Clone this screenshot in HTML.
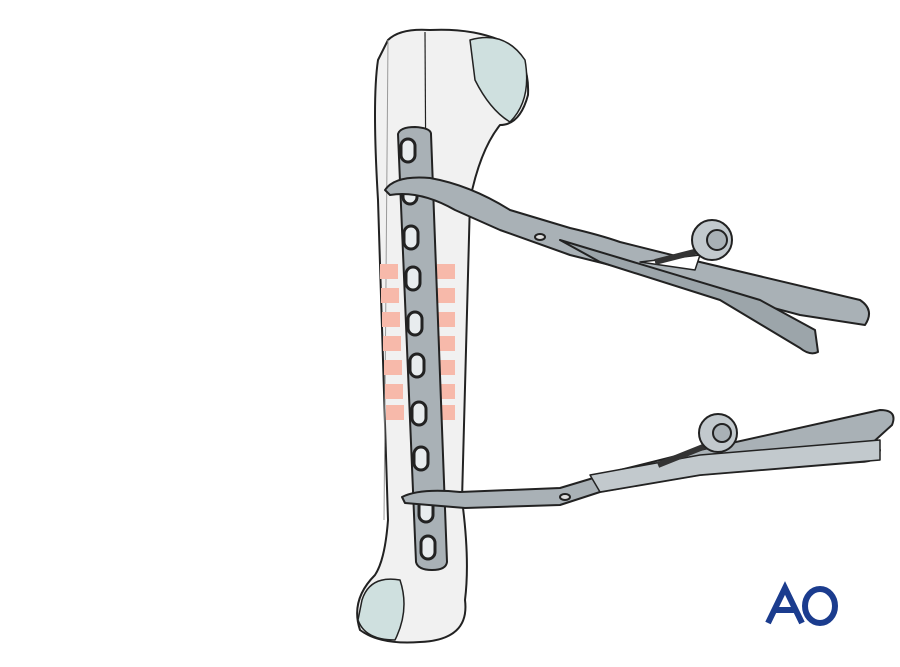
<!DOCTYPE html>
<html><head><style>body{margin:0;background:#fff}svg{display:block}</style></head><body>
<svg width="900" height="667" viewBox="0 0 900 667" xmlns="http://www.w3.org/2000/svg" stroke="#222" stroke-width="2" stroke-linejoin="round">
<!-- bone -->
<path d="M388 40 Q400 28 430 30 Q470 28 500 40 Q530 55 528 95 Q520 125 500 125 Q480 150 470 200 L462 500 Q470 560 465 600 Q470 640 420 642 Q380 645 360 630 Q350 600 375 575 Q385 560 388 520 L378 200 Q372 100 378 60 Z" fill="#f1f1f1"/>
<path d="M470 40 Q505 30 525 60 Q532 100 510 122 Q490 110 475 80 Z" fill="#cfe0df" stroke-width="1.5"/>
<path d="M362 600 Q370 575 400 580 Q410 610 395 640 Q365 640 358 620 Z" fill="#cfe0df" stroke-width="1.5"/>
<path d="M425 32 L428 560" fill="none" stroke-width="1.2"/>
<path d="M388 40 L384 520" fill="none" stroke="#999" stroke-width="1"/>
<!-- pink stripes -->
<g fill="#f7b9aa" stroke="none">
<rect x="380" y="264" width="18" height="15"/><rect x="437" y="264" width="18" height="15"/>
<rect x="381" y="288" width="18" height="15"/><rect x="437" y="288" width="18" height="15"/>
<rect x="382" y="312" width="18" height="15"/><rect x="437" y="312" width="18" height="15"/>
<rect x="383" y="336" width="18" height="15"/><rect x="437" y="336" width="18" height="15"/>
<rect x="384" y="360" width="18" height="15"/><rect x="437" y="360" width="18" height="15"/>
<rect x="385" y="384" width="18" height="15"/><rect x="437" y="384" width="18" height="15"/>
<rect x="386" y="405" width="18" height="15"/><rect x="437" y="405" width="18" height="15"/>
</g>
<!-- plate -->
<path d="M398 134 Q400 127 415 127 Q431 128 431 134 L447 562 Q446 570 432 570 Q418 570 416 562 Z" fill="#a9b1b6"/>
<g fill="#e8ecee" stroke-width="3">
<rect x="401" y="139" width="14" height="23" rx="7"/>
<rect x="403" y="181" width="14" height="23" rx="7"/>
<rect x="404" y="226" width="14" height="23" rx="7"/>
<rect x="406" y="267" width="14" height="23" rx="7"/>
<rect x="408" y="312" width="14" height="23" rx="7"/>
<rect x="410" y="354" width="14" height="23" rx="7"/>
<rect x="412" y="402" width="14" height="23" rx="7"/>
<rect x="414" y="447" width="14" height="23" rx="7"/>
<rect x="419" y="499" width="14" height="23" rx="7"/>
<rect x="421" y="536" width="14" height="23" rx="7"/>
</g>
<!-- clamp 1 -->
<path d="M385 190 Q395 175 430 178 Q470 185 510 210 L570 228 Q600 235 620 242 L700 262 L860 300 Q875 310 865 325 L800 315 L650 275 L570 255 L500 230 L455 210 Q420 190 390 195 Z" fill="#a9b1b6"/>
<path d="M560 240 L620 258 L760 300 L815 330 L818 352 Q810 356 800 348 L720 300 L600 262 Z" fill="#9ca5aa"/>
<path d="M640 262 L700 255 L695 270 Z" fill="#fff" stroke-width="1.5"/>
<path d="M655 262 L710 248" stroke-width="6" stroke="#333"/>
<circle cx="712" cy="240" r="20" fill="#c2c9cd"/><circle cx="717" cy="240" r="10" fill="#a9b1b6"/>
<ellipse cx="540" cy="237" rx="5" ry="3" fill="#ddd"/>
<!-- clamp 2 -->
<path d="M402 497 Q420 488 460 492 L560 488 L620 470 L700 450 L880 410 Q898 410 892 425 L870 445 L880 450 Q878 462 860 462 L700 475 L600 492 L560 505 L465 508 Q430 505 405 503 Z" fill="#a9b1b6"/>
<path d="M590 475 L700 455 L880 440 L880 460 L700 475 L600 492 Z" fill="#c2c9cd" stroke-width="1.5"/>
<path d="M658 465 L708 445" stroke-width="6" stroke="#333"/>
<circle cx="718" cy="433" r="19" fill="#c2c9cd"/><circle cx="722" cy="433" r="9" fill="#a9b1b6"/>
<ellipse cx="565" cy="497" rx="5" ry="3" fill="#ddd"/>
<!-- AO logo -->
<g fill="none" stroke="#1b3c8e" stroke-width="6" stroke-linejoin="miter">
<path d="M768 623 L785 588 L802 623 M775 610 L795 610"/>
<ellipse cx="820" cy="606" rx="15" ry="17"/>
</g>
</svg>
</body></html>
